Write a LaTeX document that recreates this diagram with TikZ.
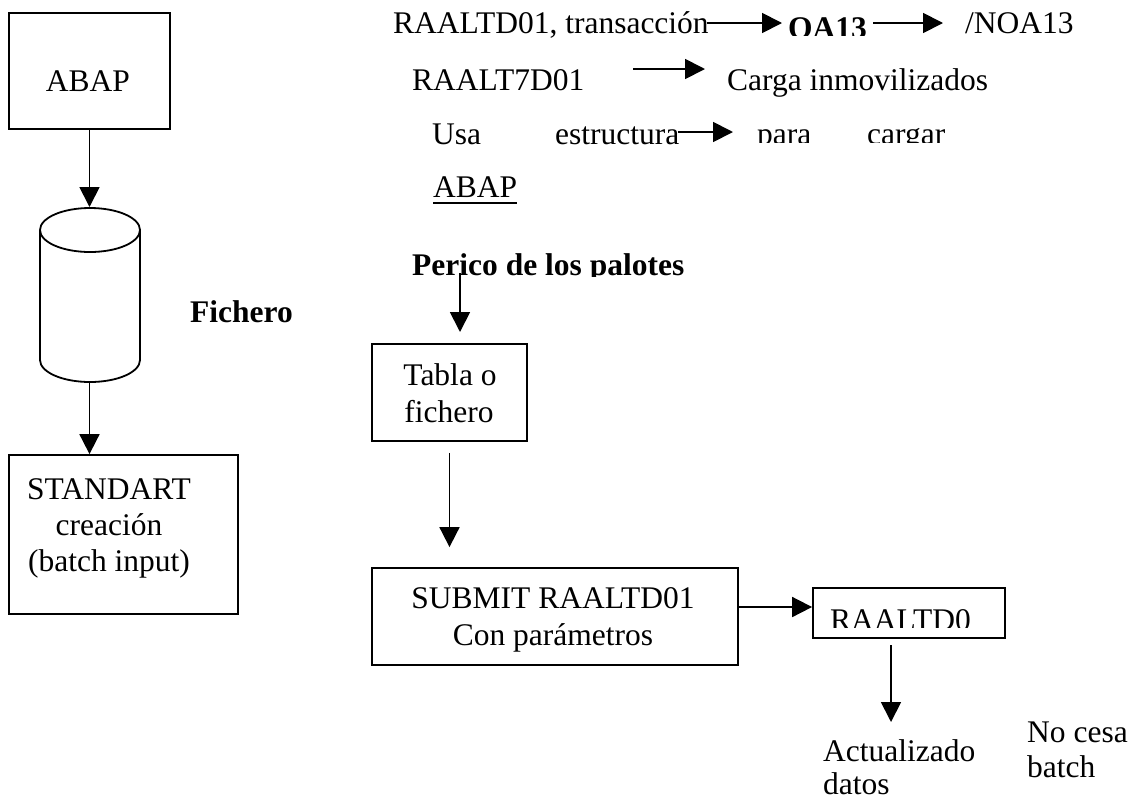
\documentclass[tikz,border=0pt]{standalone}
\usepackage{fontspec}
\setmainfont{Liberation Serif}
\usetikzlibrary{arrows.meta}
\begin{document}
\begin{tikzpicture}[x=1pt,y=-1pt,
  box/.style={draw, line width=1.8pt, inner sep=0pt},
  txt/.style={inner sep=0pt, anchor=base west, font=\fontsize{31.5}{36}\selectfont},
  btxt/.style={txt, font=\fontsize{31.5}{36}\selectfont\bfseries},
  ctxt/.style={txt, anchor=base},
  arr/.style={line width=1.8pt, -{Triangle[length=20pt,width=20pt]}},
  ln/.style={line width=1.8pt}]
\useasboundingbox[fill=white] (0,0) rectangle (1137,801);

% ---------- left column ----------
\node[box, minimum width=161pt, minimum height=116pt] (abapbox) at (89.5,71) {};
\node[ctxt] (abapt) at (88,91) {ABAP};

% cylinder (Fichero)
\draw[ln] (90,230) ellipse [x radius=50pt, y radius=22pt];
\draw[ln] (40,230) -- (40,360) arc[start angle=180, end angle=360, x radius=50pt, y radius=22pt] -- (140,230);
\coordinate (cyltop) at (89.5,207);
\coordinate (cylbot) at (89.5,382);
\node[btxt] (fich) at (190,322) {Fichero};

\node[box, minimum width=229pt, minimum height=159pt] (stand) at (123.5,534.5) {};
\node[ctxt] (st1) at (109,499) {STANDART};
\node[ctxt] (st2) at (109,535) {creación};
\node[ctxt] (st3) at (109,571) {(batch input)};

\draw[arr] (abapbox.south) -- (cyltop);
\draw[arr] (cylbot) -- (cylbot |- stand.north);

% ---------- top text rows ----------
\node[txt] (r1a) at (393,33) {RAALTD01, transacción};
\begin{scope}
  \clip (780,0) rectangle (870,35);
  \node[btxt] (oa) at (788,38) {OA13};
\end{scope}
\node[txt] (noa) at (965,33) {/NOA13};
\coordinate (a1s) at (707,23); \coordinate (a1e) at (782,23);
\coordinate (a2s) at (873,23); \coordinate (a2e) at (943,23);
\draw[arr] (a1s) -- (a1e);
\draw[arr] (a2s) -- (a2e);

\node[txt] (r2a) at (412,90) {RAALT7D01};
\node[txt] (r2b) at (727,90) {Carga inmovilizados};
\coordinate (a3s) at (633,69); \coordinate (a3e) at (705,69);
\draw[arr] (a3s) -- (a3e);

\node[txt] (r3a) at (432,144) {Usa};
\node[txt] (r3b) at (555,144) {estructura};
\begin{scope}
  \clip (740,100) rectangle (1000,142.5);
  \node[txt] (r3c) at (757,144) {para};
  \node[txt] (r3d) at (867,144) {cargar};
\end{scope}
\coordinate (a4s) at (678,132); \coordinate (a4e) at (733,132);
\draw[arr] (a4s) -- (a4e);

\node[txt] (r4) at (433,197) {ABAP};
\draw[line width=2.5pt] ([yshift=-6pt]r4.base west) -- ([yshift=-6pt]r4.base east);

% ---------- right flow ----------
\begin{scope}
  \clip (400,240) rectangle (720,276.5);
  \node[btxt] (perico) at (412,275) {Perico de los palotes};
\end{scope}
\coordinate (p1) at (460,273); \coordinate (p2) at (460,332);
\draw[arr] (p1) -- (p2);

\node[box, minimum width=155pt, minimum height=97pt] (tabla) at (449.5,392.5) {};
\node[ctxt] (tb1) at (450,385) {Tabla o};
\node[ctxt] (tb2) at (449,422) {fichero};

\node[box, minimum width=366pt, minimum height=97pt] (submit) at (555,616.5) {};
\node[ctxt] (sb1) at (553,608) {SUBMIT RAALTD01};
\node[ctxt] (sb2) at (553,645) {Con parámetros};

\draw[arr] ([yshift=-11pt]tabla.south) -- ([yshift=20pt]tabla.south |- submit.north);

\node[box, minimum width=192pt, minimum height=50pt] (raal) at (909,613) {};
\begin{scope}
  \clip (815,590) rectangle (1003,627.5);
  \node[txt] (raalt) at (830,630) {RAALTD0};
\end{scope}
\draw[arr] ([yshift=9.5pt]submit.east) -- ([yshift=9.5pt]submit.east -| raal.west);

\coordinate (d1) at (891,645); \coordinate (d2) at (891,722);
\draw[arr] (d1) -- (d2);

\node[txt] (act1) at (823,761) {Actualizado};
\node[txt] (act2) at (823,794) {datos};
\node[txt] (nc1) at (1027,742) {No cesa};
\node[txt] (nc2) at (1027,777) {batch};
\end{tikzpicture}
\end{document}
